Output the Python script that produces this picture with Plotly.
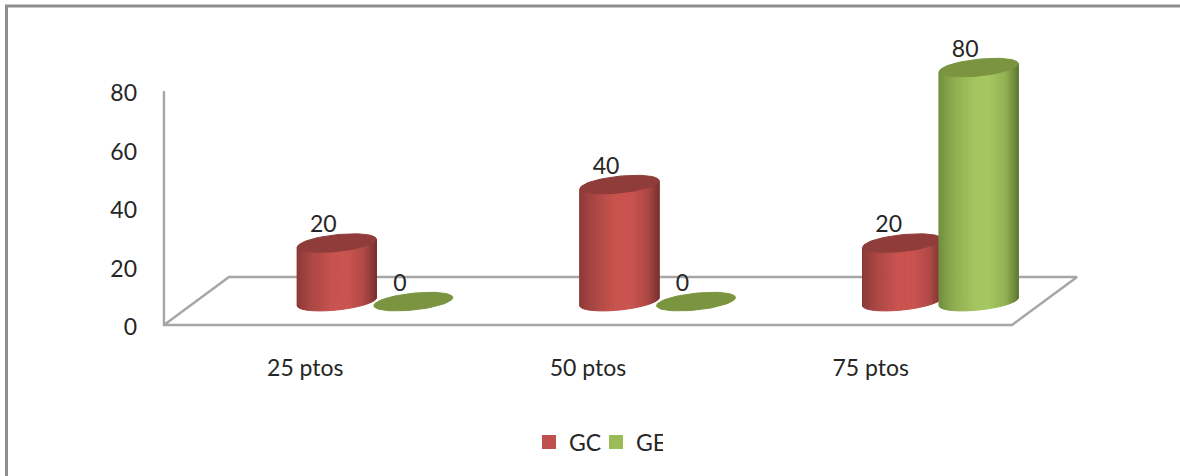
import numpy as np
import plotly.graph_objects as go

# Chart data
categories = ["25 ptos", "50 ptos", "75 ptos"]
gc_values = [20, 40, 20]
ge_values = [0, 0, 80]
y_ticks = [0, 20, 40, 60, 80]

# Figure frame in pixels
WIDTH, HEIGHT = 1180, 476
LEFT, RIGHT, TOP, BOTTOM = 140, 1180, 30, 350
Y0_PX, PX_PER_UNIT = 325.0, 2.925
CAT0_PX, PX_PER_CAT = 305.3, 282.7

x_range = [(LEFT - CAT0_PX) / PX_PER_CAT, (RIGHT - CAT0_PX) / PX_PER_CAT]
y_range = [(Y0_PX - BOTTOM) / PX_PER_UNIT, (Y0_PX - TOP) / PX_PER_UNIT]

# Oblique projection of the floor and the cylinders
FLOOR_DX, FLOOR_DY = 65 / PX_PER_CAT, 48 / PX_PER_UNIT
BASE_LEVEL = 8.0
RADIUS = 39.5 / PX_PER_CAT
ELL_B = 8.4 / PX_PER_UNIT
ELL_TILT = 4.0 / PX_PER_UNIT
SLICES = 48
FONT = "Lato"
FONT_SIZE = 23
TEXT_COLOR = "#262626"

series = [
    dict(name="GC", values=gc_values, offset=31.5 / PX_PER_CAT, swatch="#C0504D", cap="#8F3C3A",
         shade=[(-1.0, "#8E3A38"), (-0.6, "#AD4845"), (-0.1, "#C9534F"), (0.3, "#CA5450"), (0.7, "#AF4946"), (1.0, "#7D3331")]),
    dict(name="GE", values=ge_values, offset=108.0 / PX_PER_CAT, swatch="#9BBB59", cap="#7A9440",
         shade=[(-1.0, "#738F3F"), (-0.6, "#8FAE50"), (-0.1, "#A4C55F"), (0.3, "#A5C660"), (0.7, "#91B052"), (1.0, "#627B35")]),
]


def to_rgb(hex_color):
    return np.array([int(hex_color[i:i + 2], 16) for i in (1, 3, 5)], dtype=float)


def shade_at(stops, u):
    pos = [s[0] for s in stops]
    rgb = np.array([to_rgb(s[1]) for s in stops])
    vals = [np.interp(u, pos, rgb[:, c]) for c in range(3)]
    return "rgb({:.0f},{:.0f},{:.0f})".format(*vals)


fig = go.Figure()

# Walls and floor
left_edge, right_edge = -0.5, len(categories) - 0.5
fig.add_trace(go.Scatter(
    x=[left_edge, left_edge, right_edge, right_edge + FLOOR_DX, left_edge + FLOOR_DX, left_edge],
    y=[y_ticks[-1], 0, 0, FLOOR_DY, FLOOR_DY, 0],
    mode="lines", line=dict(color="#A6A6A6", width=2.4),
    showlegend=False, hoverinfo="skip",
))

# Plain bars carry the series and the legend entries; the cylinder bodies sit over them
for s in series:
    fig.add_trace(go.Bar(
        x=[i + s["offset"] for i in range(len(categories))],
        y=s["values"], base=BASE_LEVEL, width=RADIUS,
        name=s["name"],
        marker=dict(color=s["swatch"], line=dict(color=s["swatch"], width=2)),
        hoverinfo="skip",
    ))


def ellipse_edge(cx, level, t):
    return cx + RADIUS * np.cos(t), level + ELL_TILT * np.cos(t) + ELL_B * np.sin(t)


def add_polygon(xs, ys, color):
    fig.add_trace(go.Scatter(
        x=list(xs), y=list(ys), mode="lines", fill="toself", fillcolor=color,
        line=dict(color=color, width=1), showlegend=False, hoverinfo="skip",
    ))


# Cylinders: shaded vertical strips plus a flat elliptical cap
for i in range(len(categories)):
    for s in series:
        value = s["values"][i]
        cx = i + s["offset"]
        if value > 0:
            angles = np.linspace(np.pi, 2 * np.pi, SLICES + 1)
            for t0, t1 in zip(angles[:-1], angles[1:]):
                sample = np.linspace(t0, t1, 3)
                xs, bottom = ellipse_edge(cx, BASE_LEVEL, sample)
                _, top = ellipse_edge(cx, BASE_LEVEL + value, sample)
                u = (xs.mean() - cx) / RADIUS
                add_polygon(np.r_[xs, xs[::-1], xs[0]], np.r_[bottom, top[::-1], bottom[0]],
                            shade_at(s["shade"], u))
        t = np.linspace(0, 2 * np.pi, 73)
        xs, ys = ellipse_edge(cx, BASE_LEVEL + value, t)
        add_polygon(xs, ys, s["cap"])

# Value labels
for s in series:
    fig.add_trace(go.Scatter(
        x=[i + s["offset"] - 13.5 / PX_PER_CAT for i in range(len(categories))],
        y=[BASE_LEVEL + v + 5.6 for v in s["values"]],
        text=[str(v) for v in s["values"]],
        mode="text", textposition="middle center",
        textfont=dict(family=FONT, size=FONT_SIZE, color=TEXT_COLOR),
        showlegend=False, hoverinfo="skip",
    ))

fig.update_layout(
    width=WIDTH, height=HEIGHT,
    margin=dict(l=LEFT, r=WIDTH - RIGHT, t=TOP, b=HEIGHT - BOTTOM, pad=0),
    paper_bgcolor="white", plot_bgcolor="white",
    barmode="overlay",
    font=dict(family=FONT, size=FONT_SIZE, color=TEXT_COLOR),
    xaxis=dict(range=x_range, tickmode="array", tickvals=list(range(len(categories))), ticktext=categories,
               showgrid=False, zeroline=False, showline=False, ticks="", ticklabelstandoff=2),
    yaxis=dict(range=y_range, tickmode="array", tickvals=y_ticks,
               showgrid=False, zeroline=False, showline=False, ticks="", ticklabelstandoff=2,
               ticklabelshift=2),
    legend=dict(orientation="h", xanchor="center", yanchor="middle",
                x=(596 - LEFT) / (RIGHT - LEFT), y=-(442 - BOTTOM) / (BOTTOM - TOP),
                font=dict(family=FONT, size=FONT_SIZE, color=TEXT_COLOR),
                itemwidth=30, entrywidth=22, entrywidthmode="pixels",
                itemclick=False, itemdoubleclick=False, traceorder="normal", bgcolor="rgba(0,0,0,0)"),
    showlegend=True,
    shapes=[
        dict(type="line", xref="paper", yref="paper", line=dict(color="#8E8E8E", width=3),
             x0=(6.5 - LEFT) / (RIGHT - LEFT), x1=(6.5 - LEFT) / (RIGHT - LEFT),
             y0=(BOTTOM - 476) / (BOTTOM - TOP), y1=(BOTTOM - 6) / (BOTTOM - TOP)),
        dict(type="line", xref="paper", yref="paper", line=dict(color="#8E8E8E", width=3),
             x0=(5 - LEFT) / (RIGHT - LEFT), x1=1,
             y0=(BOTTOM - 6) / (BOTTOM - TOP), y1=(BOTTOM - 6) / (BOTTOM - TOP)),
    ],
)

fig.write_html("out.html")
